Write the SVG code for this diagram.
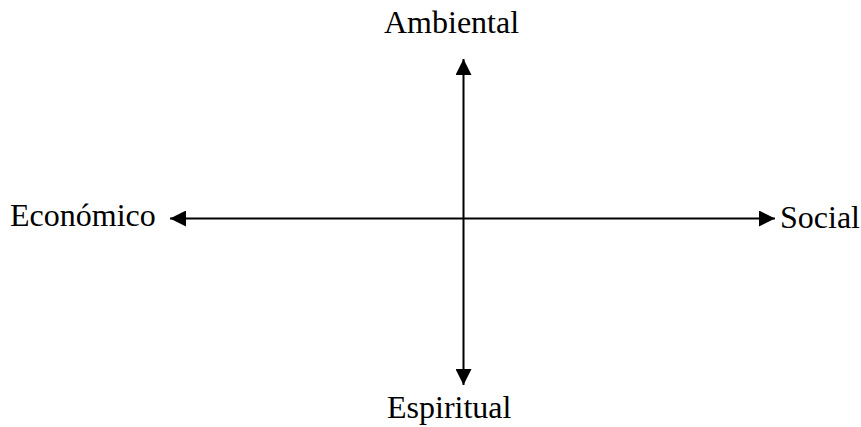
<svg xmlns="http://www.w3.org/2000/svg" width="861" height="427" viewBox="0 0 861 427">
<style>
.lbl{font-family:"Liberation Serif","Times New Roman",serif;font-size:32px;fill:#000}
.ax{stroke:#000;stroke-width:2;fill:none}
</style>
<defs>
<marker id="ah" viewBox="0 0 16 16" refX="16" refY="8" markerWidth="16" markerHeight="16" markerUnits="userSpaceOnUse" orient="auto-start-reverse">
<path d="M0,0 L16,8 L0,16 Z" fill="#000"/>
</marker>
</defs>
<rect width="861" height="427" fill="#fff"/>
<g id="connectors">
<line class="ax" x1="463.5" y1="59" x2="463.5" y2="385" marker-start="url(#ah)" marker-end="url(#ah)"/>
<line class="ax" x1="170" y1="218.5" x2="775" y2="218.5" marker-start="url(#ah)" marker-end="url(#ah)"/>
</g>
<g id="ambiental"><text class="lbl" x="384" y="33">Ambiental</text></g>
<g id="economico"><text class="lbl" x="10" y="226">Económico</text></g>
<g id="social"><text class="lbl" x="780" y="228">Social</text></g>
<g id="espiritual"><text class="lbl" x="387" y="418">Espiritual</text></g>
</svg>
